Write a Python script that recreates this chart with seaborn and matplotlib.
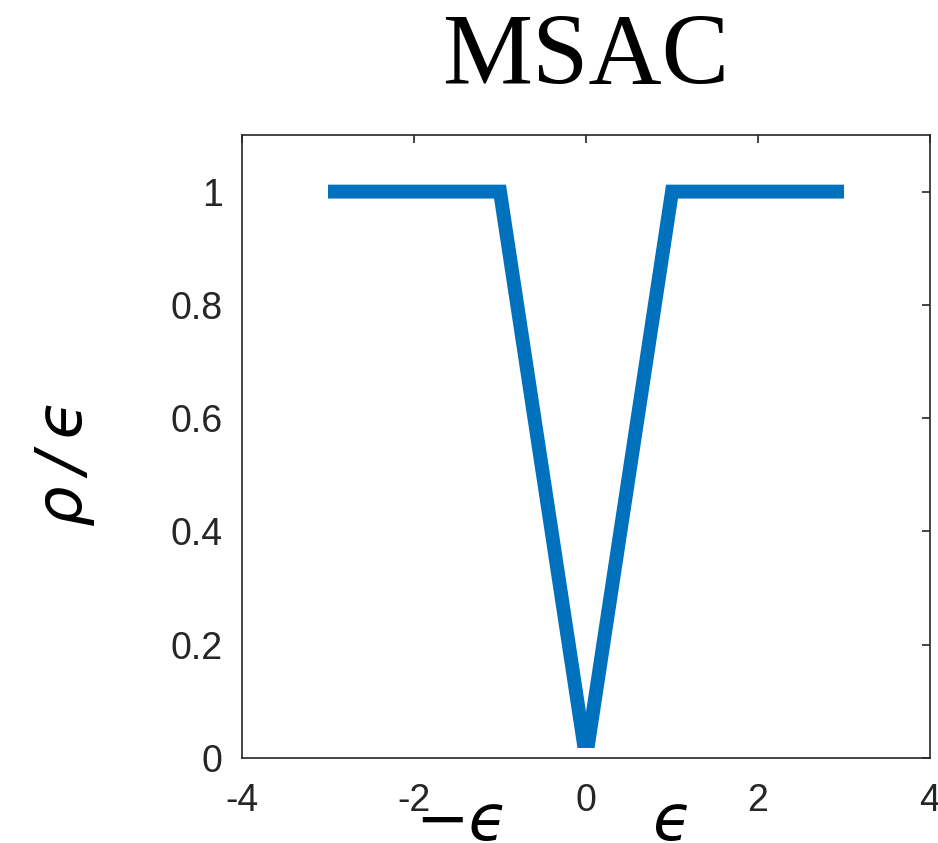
import matplotlib
matplotlib.use("Agg")
import matplotlib.pyplot as plt
import matplotlib.transforms as mtransforms
import seaborn as sns
import pandas as pd

# MSAC loss (normalised by epsilon), sampled vertices of the curve
x_vals = [-3.0, -1.0, -0.03, 0.03, 1.0, 3.0]
rho_vals = [1.0, 1.0, 0.03, 0.03, 1.0, 1.0]

x_ticks = [-4, -2, 0, 2, 4]
x_tick_labels = ["-4", "-2", "0", "2", "4"]
y_ticks = [0, 0.2, 0.4, 0.6, 0.8, 1.0]
y_tick_labels = ["0", "0.2", "0.4", "0.6", "0.8", "1"]

sns.set_theme(style="white")
plt.rcParams["font.family"] = ["Liberation Sans", "DejaVu Sans"]

df = pd.DataFrame({"x": x_vals, "rho": rho_vals})

fig = plt.figure(figsize=(9.38, 8.43), dpi=100)
ax = fig.add_axes([0.258, 0.1008, 0.7335, 0.7391])

sns.lineplot(data=df, x="x", y="rho", ax=ax, color="#0072BD", linewidth=10,
             sort=False, estimator=None)
for ln in ax.get_lines():
    ln.set_solid_joinstyle("miter")
    ln.set_solid_capstyle("butt")

ax.set_xlim(-4, 4)
ax.set_ylim(0, 1.1)
ax.set_xticks(x_ticks)
ax.set_xticklabels(x_tick_labels)
ax.set_yticks(y_ticks)
ax.set_yticklabels(y_tick_labels)

axis_col = "#262626"
for sp in ax.spines.values():
    sp.set_visible(True)
    sp.set_color(axis_col)
    sp.set_linewidth(1.2)

ax.tick_params(axis="both", direction="in", length=6, width=1.2, color=axis_col,
               labelcolor=axis_col, labelsize=27, top=True, right=True)
ax.tick_params(axis="x", pad=18)
ax.tick_params(axis="y", pad=14)

greek = dict(family="DejaVu Sans", style="italic", color="black")

ax.set_xlabel("")
ax.set_ylabel("\u03c1\u2009/\u2009\u03f5", fontsize=46, **greek)
ax.yaxis.set_label_coords(-0.214, 0.474)

ax.set_title("MSAC", fontsize=73, family="Liberation Serif", color="black", pad=37)

trans = mtransforms.blended_transform_factory(ax.transData, ax.transAxes)
ax.text(-1.45, -0.103, "\u2212\u03f5", transform=trans, fontsize=46,
        ha="center", va="center", **greek)
ax.text(1.0, -0.103, "\u03f5", transform=trans, fontsize=46,
        ha="center", va="center", **greek)

fig.savefig("out.png", dpi=100)
